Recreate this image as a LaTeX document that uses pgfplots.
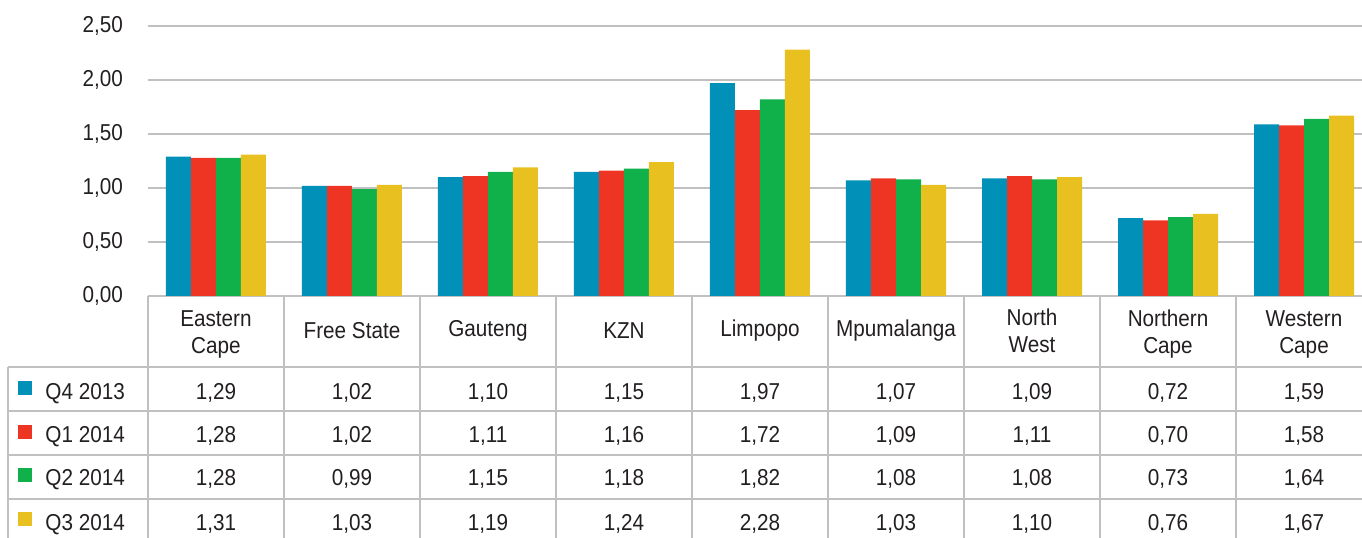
\documentclass[border=0pt]{standalone}
\usepackage{pgfplots}
\pgfplotsset{compat=1.18}
\usepackage{fontspec}
\setmainfont[FakeStretch=0.9]{Liberation Sans}
\definecolor{cB}{RGB}{0,144,184}
\definecolor{cR}{RGB}{238,53,36}
\definecolor{cG}{RGB}{16,176,74}
\definecolor{cY}{RGB}{232,192,32}
\definecolor{gridc}{RGB}{192,192,192}
\definecolor{txt}{RGB}{35,31,32}
\begin{document}
\begin{tikzpicture}[font=\fontsize{11.5}{13.6}\selectfont, text=txt]
\begin{axis}[
  x=68pt, y=54pt,
  xmin=-0.5, xmax=8.4265, ymin=0, ymax=2.5,
  axis line style={draw=none},
  xtick=\empty,
  ytick={0,0.5,1,1.5,2,2.5},
  ymajorgrids, grid style={gridc, line width=0.6pt},
  major tick length=0pt,
  yticklabel style={xshift=-9pt, text=txt, /pgf/number format/.cd, fixed, fixed zerofill, precision=2, use comma, assume math mode=true},
  ybar=0pt, bar width=12.5pt,
  clip=false,
]
\addplot[fill=cB, draw=none] coordinates {(0,1.29) (1,1.02) (2,1.10) (3,1.15) (4,1.97) (5,1.07) (6,1.09) (7,0.72) (8,1.59)};
\addplot[fill=cR, draw=none] coordinates {(0,1.28) (1,1.02) (2,1.11) (3,1.16) (4,1.72) (5,1.09) (6,1.11) (7,0.70) (8,1.58)};
\addplot[fill=cG, draw=none] coordinates {(0,1.28) (1,0.99) (2,1.15) (3,1.18) (4,1.82) (5,1.08) (6,1.08) (7,0.73) (8,1.64)};
\addplot[fill=cY, draw=none] coordinates {(0,1.31) (1,1.03) (2,1.19) (3,1.24) (4,2.28) (5,1.03) (6,1.10) (7,0.76) (8,1.67)};
\coordinate (O) at (axis cs:0,0);
\coordinate (BL) at (axis cs:-1.588,-2.2315);
\coordinate (TR) at (axis cs:8.4265,2.7407);
\end{axis}
\begin{scope}[shift={(O)}, x=68pt, y=54pt]
  % table grid
  \foreach \k in {-0.5,0.5,1.5,2.5,3.5,4.5,5.5,6.5,7.5}
    \draw[gridc, line width=0.6pt] (\k,0) -- (\k,-2.4);
  \foreach \yy in {-0.657,-1.065,-1.472,-1.880}
    \draw[gridc, line width=0.6pt] (-1.529,\yy) -- (8.6,\yy);
  \draw[gridc, line width=0.6pt] (-1.529,-0.657) -- (-1.529,-2.4);
  % header
  \foreach \n [count=\i from 0] in {{Free State},{Gauteng},{KZN},{Limpopo},{Mpumalanga}}
    \node[align=center, inner sep=0pt] at (\i+1,-0.324) {\n};
  \foreach \n/\i in {{Eastern\\Cape}/0,{Northern\\Cape}/7,{Western\\Cape}/8}
    \node[align=center, inner sep=0pt] at (\i,-0.355) {\n};
  \node[align=center, inner sep=0pt] at (6,-0.325) {North\\West};
  % legend labels
  \foreach \c/\lab/\yb in {cB/Q4 2013/-0.954, cR/Q1 2014/-1.361, cG/Q2 2014/-1.759, cY/Q3 2014/-2.167}{
    \fill[\c] (-1.404,\yb+0.098) +(-3.5pt,-3.5pt) rectangle +(3.5pt,3.5pt);
    \node[anchor=base west, inner sep=0pt] at (-1.257,\yb) {\lab};
  }
  % values
  \pgfkeys{/pgf/number format/.cd, fixed, fixed zerofill, precision=2, use comma, assume math mode=true}
  \foreach \v [count=\i from 0] in {1.29,1.02,1.10,1.15,1.97,1.07,1.09,0.72,1.59}
    \node[anchor=base, inner sep=0pt] at (\i,-0.954) {\pgfmathprintnumber{\v}};
  \foreach \v [count=\i from 0] in {1.28,1.02,1.11,1.16,1.72,1.09,1.11,0.70,1.58}
    \node[anchor=base, inner sep=0pt] at (\i,-1.361) {\pgfmathprintnumber{\v}};
  \foreach \v [count=\i from 0] in {1.28,0.99,1.15,1.18,1.82,1.08,1.08,0.73,1.64}
    \node[anchor=base, inner sep=0pt] at (\i,-1.759) {\pgfmathprintnumber{\v}};
  \foreach \v [count=\i from 0] in {1.31,1.03,1.19,1.24,2.28,1.03,1.10,0.76,1.67}
    \node[anchor=base, inner sep=0pt] at (\i,-2.167) {\pgfmathprintnumber{\v}};
\end{scope}
\pgfresetboundingbox
\path[use as bounding box] (BL) rectangle (TR);
\end{tikzpicture}
\end{document}
